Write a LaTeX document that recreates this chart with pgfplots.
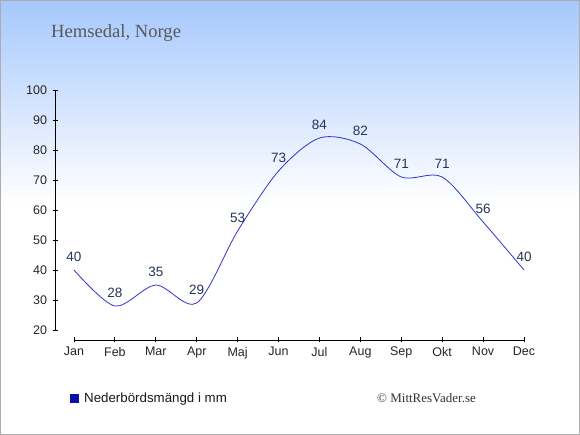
\documentclass[border=0pt]{standalone}
\usepackage{pgfplots}
\pgfplotsset{compat=1.18}
\usepackage{fontspec}
\setmainfont{Liberation Sans}
\newfontfamily\seriffont{Liberation Serif}
\definecolor{bgtop}{RGB}{166,200,253}
\definecolor{linec}{RGB}{51,51,204}
\definecolor{labc}{RGB}{38,52,88}
\definecolor{legc}{RGB}{8,18,170}
\begin{document}
\begin{tikzpicture}[x=1pt,y=1pt]
\useasboundingbox (0,0) rectangle (580,435);
\fill[white] (0,0) rectangle (580,435);
\shade[top color=bgtop, bottom color=white] (0,232) rectangle (580,435);
\draw[black!32, line width=1.2pt] (0.6,0.6) rectangle (579.4,434.4);
\node[anchor=base west, font=\seriffont\fontsize{18.6}{20}\selectfont, text=black!65, inner sep=0] at (51,397) {Hemsedal, Norge};
\begin{axis}[
  at={(55pt,95pt)}, anchor=south west, scale only axis,
  width=469pt, height=250pt,
  xmin=-0.4644, xmax=11, ymin=16.667, ymax=100,
  axis lines=left, axis line style={draw=none},
  clip=false,
  xtick={0,...,11},
  xticklabels={Jan,Feb,Mar,Apr,Maj,Jun,Jul,Aug,Sep,Okt,Nov,Dec},
  ytick={20,30,...,100},
  tick align=center, major tick length=5pt,
  tick style={black, line width=0.9pt},
  ticklabel style={font=\fontsize{12.5}{14}\selectfont, text=black!85},
  /pgf/number format/assume math mode=true,
  yticklabel style={xshift=-2pt},
  xticklabel style={yshift=-1pt},
]
\draw[black, line width=0.9pt] (axis cs:-0.4644,20) -- (axis cs:-0.4644,100);
\draw[black, line width=0.9pt] (axis cs:0,16.667) -- (axis cs:11,16.667);
\addplot[linec, line width=0.8pt, smooth, mark=none,
  nodes near coords, point meta=explicit symbolic,
  every node near coord/.style={anchor=center, yshift=13pt, font=\fontsize{13.5}{15}\selectfont, text=labc}]
  table[meta=v] {
x y v
0 40 40
1 28 28
2 35 35
3 29 29
4 53 53
5 73 73
6 84 84
7 82 82
8 71 71
9 71 71
10 56 56
11 40 40
};
\end{axis}
\fill[legc] (70,32) rectangle (79,41);
\node[anchor=base west, font=\fontsize{13.3}{15}\selectfont, text=black!90, inner sep=0] at (84,32) {Nederbördsmängd i mm};
\node[anchor=base west, font=\seriffont\fontsize{13}{15}\selectfont, text=black!80, inner sep=0] at (377,32) {© MittResVader.se};
\end{tikzpicture}
\end{document}
